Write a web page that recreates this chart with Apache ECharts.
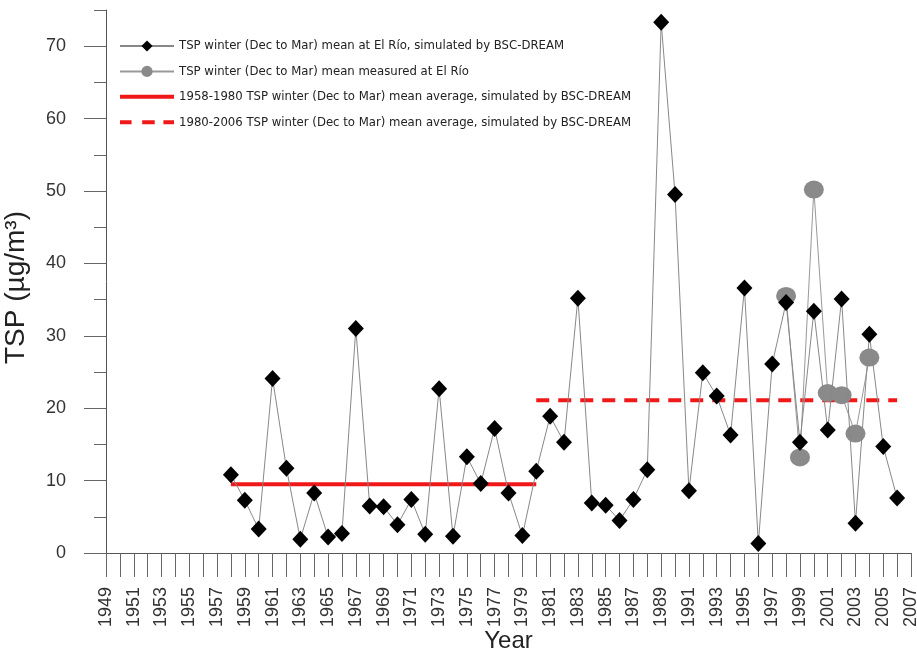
<!DOCTYPE html>
<html><head><meta charset="utf-8">
<script src="https://cdn.jsdelivr.net/npm/echarts@6/dist/echarts.min.js"></script>
<style>html,body{margin:0;padding:0;background:#fff}#c{width:917px;height:652px}</style>
</head><body><div id="c"></div>
<script>
const simYears = [1958,1959,1960,1961,1962,1963,1964,1965,1966,1967,1968,1969,1970,1971,1972,1973,1974,1975,1976,1977,1978,1979,1980,1981,1982,1983,1984,1985,1986,1987,1988,1989,1990,1991,1992,1993,1994,1995,1996,1997,1998,1999,2000,2001,2002,2003,2004,2005,2006];
const simValues = [10.8,7.3,3.3,24.1,11.7,1.9,8.3,2.2,2.7,31.0,6.5,6.4,3.9,7.4,2.6,22.7,2.3,13.3,9.6,17.2,8.3,2.4,11.3,18.9,15.3,35.2,6.9,6.6,4.5,7.4,11.5,73.3,49.5,8.6,24.9,21.7,16.3,36.6,1.3,26.1,34.6,15.3,33.4,17.0,35.1,4.1,30.2,14.7,7.6];
const measYears = [1998,1999,2000,2001,2002,2003,2004];
const measValues = [35.5,13.2,50.2,22.1,21.8,16.5,27.0];
const avg1Years = [1958,1980];
const avg1Values = [9.5,9.5];
const avg2Years = [1980,2006];
const avg2Values = [21.1,21.1];
const yTickValues = [0,10,20,30,40,50,60,70];
const names = [
  'TSP winter (Dec to Mar) mean at El Río, simulated by BSC-DREAM',
  'TSP winter (Dec to Mar) mean measured at El Río',
  '1958-1980 TSP winter (Dec to Mar) mean average, simulated by BSC-DREAM',
  '1980-2006 TSP winter (Dec to Mar) mean average, simulated by BSC-DREAM'
];
const pairs = (xs, ys) => xs.map((x, i) => [x, ys[i]]);
const narrow = '"Liberation Sans Narrow","Arial Narrow","DejaVu Sans Condensed",sans-serif';
const RED = '#f01818';
const chart = echarts.init(document.getElementById('c'), null, {renderer:'canvas'});
chart.setOption({
  animation: false,
  backgroundColor: '#fff',
  grid: {left: 106, right: 6, top: 10, bottom: 99, containLabel: false, outerBoundsMode: 'none'},
  legend: {
    orient: 'vertical', left: 114, top: 34, itemWidth: 54, itemHeight: 14, itemGap: 11.4,
    data: [
      {name: names[0]},
      {name: names[1]},
      {name: names[2], icon: 'path://M0,0H56V4H0Z', itemStyle: {color: RED}},
      {name: names[3], icon: 'path://M0,0H12V4H0Z M23,0H36V4H23Z M45,0H56V4H45Z', itemStyle: {color: RED}}
    ],
    textStyle: {fontFamily: narrow, fontSize: 13, lineHeight: 14, color: '#222'}
  },
  xAxis: {
    type: 'value', min: 1949, max: 2007, interval: 1,
    name: 'Year', nameLocation: 'middle', nameGap: 76, nameMoveOverlap: false,
    nameTextStyle: {fontFamily: 'Liberation Sans', fontSize: 24, color: '#222'},
    axisLine: {lineStyle: {color: '#555', width: 1}},
    axisTick: {length: 24, lineStyle: {color: '#666'}},
    splitLine: {show: false},
    axisLabel: {rotate: 90, margin: 34, fontFamily: 'Liberation Sans', fontSize: 18, color: '#333',
      formatter: v => (v % 2 === 1 ? String(v) : '')}
  },
  yAxis: [{
    type: 'value', min: 0, max: 75, interval: 5,
    name: 'TSP (µg/m³)', nameLocation: 'middle', nameGap: 76,
    nameTextStyle: {fontFamily: 'Liberation Sans', fontSize: 28, color: '#222', padding: [0, 12, 0, 0]},
    axisLine: {show: true, lineStyle: {color: '#555', width: 1}},
    axisTick: {show: true, length: 12, lineStyle: {color: '#666'}},
    splitLine: {show: false},
    axisLabel: {margin: 40, fontFamily: 'Liberation Sans', fontSize: 18, color: '#333',
      formatter: v => (v % 10 === 0 ? String(v) : '')}
  }, {
    type: 'value', min: 0, max: 75, position: 'left', interval: 5,
    axisLine: {show: false},
    axisTick: {show: true, length: 22, customValues: yTickValues, lineStyle: {color: '#666'}},
    axisLabel: {show: false}, splitLine: {show: false}
  }],
  series: [{
    name: names[2], type: 'line', data: pairs(avg1Years, avg1Values), symbol: 'none',
    lineStyle: {color: RED, width: 4}, itemStyle: {color: RED}, z: 1
  }, {
    name: names[3], type: 'line', data: pairs(avg2Years, avg2Values), symbol: 'none',
    lineStyle: {color: RED, width: 4, type: [13, 9]}, itemStyle: {color: RED}, z: 1
  }, {
    name: names[1], type: 'line', data: pairs(measYears, measValues),
    symbol: 'circle', symbolSize: [20, 18],
    lineStyle: {color: '#999', width: 1}, itemStyle: {color: '#8a8a8a'}, z: 2
  }, {
    name: names[0], type: 'line', data: pairs(simYears, simValues),
    symbol: 'diamond', symbolSize: [16, 17],
    lineStyle: {color: '#888', width: 1}, itemStyle: {color: '#000'}, z: 3
  }]
});
</script></body></html>
